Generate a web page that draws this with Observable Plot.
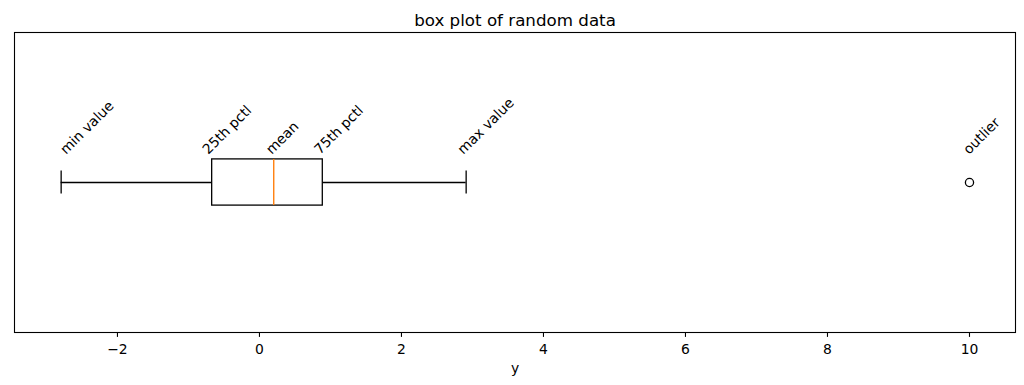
<!DOCTYPE html>
<html>
<head>
<meta charset="utf-8">
<script src="https://cdn.jsdelivr.net/npm/d3@7"></script>
<script src="https://cdn.jsdelivr.net/npm/@observablehq/plot@0.6"></script>
<style>
  html, body { margin: 0; padding: 0; background: white; }
  #chart { width: 1024px; height: 385px; }
</style>
</head>
<body>
<div id="chart"></div>
<script>
// Box statistics (x values)
const boxStats = { min: -2.793, q1: -0.666, median: 0.201, q3: 0.892, max: 2.911 };
const outliers = [10];

// Annotations
const labelTexts = ["min value", "25th pctl", "mean", "75th pctl", "max value", "outlier"];
const labelX = [-2.765, -0.761, 0.131, 0.813, 2.831, 9.953];

// Axis ticks
const xTicks = [-2, 0, 2, 4, 6, 8, 10];
const title = "box plot of random data";
const xLabel = "y";

const labels = labelTexts.map((t, i) => ({ text: t, x: labelX[i] }));
const whiskers = [
  { x1: boxStats.min, x2: boxStats.q1 },
  { x1: boxStats.q3, x2: boxStats.max }
];

const CENTER = 0.5, BOX_HALF = 0.077, CAP_HALF = 0.0383, LABEL_Y = 0.601;
const FS = 13.9;

const chart = Plot.plot({
  width: 1024,
  height: 385,
  marginLeft: 14,
  marginRight: 9,
  marginTop: 32,
  marginBottom: 53,
  style: { fontFamily: "DejaVu Sans", fontSize: FS + "px", background: "white", color: "black" },
  x: { domain: [-3.45, 10.648] },
  y: { domain: [0, 1], axis: null },
  marks: [
    Plot.ruleY(whiskers, { x1: "x1", x2: "x2", y: () => CENTER, stroke: "black", strokeWidth: 1.3 }),
    Plot.ruleX([boxStats.min, boxStats.max], { x: d => d, y1: CENTER - CAP_HALF, y2: CENTER + CAP_HALF, stroke: "black", strokeWidth: 1.3 }),
    Plot.rect([boxStats], { x1: "q1", x2: "q3", y1: CENTER - BOX_HALF, y2: CENTER + BOX_HALF, fill: "white", stroke: "black", strokeWidth: 1.3 }),
    Plot.ruleX([boxStats.median], { x: d => d, y1: CENTER - BOX_HALF, y2: CENTER + BOX_HALF, stroke: "#ff7f0e", strokeWidth: 1.4 }),
    Plot.dot(outliers, { x: d => d, y: () => CENTER, r: 4.1, stroke: "black", fill: "none", strokeWidth: 1.3 }),
    Plot.text(labels, { x: "x", y: () => LABEL_Y, text: "text", rotate: -45, textAnchor: "start", lineAnchor: "bottom", dx: 2.9, dy: 2.9, fontSize: FS, fill: "black" }),
    Plot.frame({ stroke: "black", strokeWidth: 1.1 }),
    Plot.axisX({
      ticks: xTicks,
      tickSize: 4.9,
      tickPadding: 7,
      tickFormat: d => d < 0 ? "\u2212" + (-d) : String(d),
      fontSize: FS,
      label: null,
      strokeWidth: 1.1
    }),
    Plot.text([xLabel], { frameAnchor: "bottom", dy: 40, lineAnchor: "bottom", fontSize: FS, fill: "black" }),
    Plot.text([title], { frameAnchor: "top", dy: -7, lineAnchor: "bottom", fontSize: 16.7, fill: "black" })
  ]
});
document.getElementById("chart").appendChild(chart);
</script>
</body>
</html>
